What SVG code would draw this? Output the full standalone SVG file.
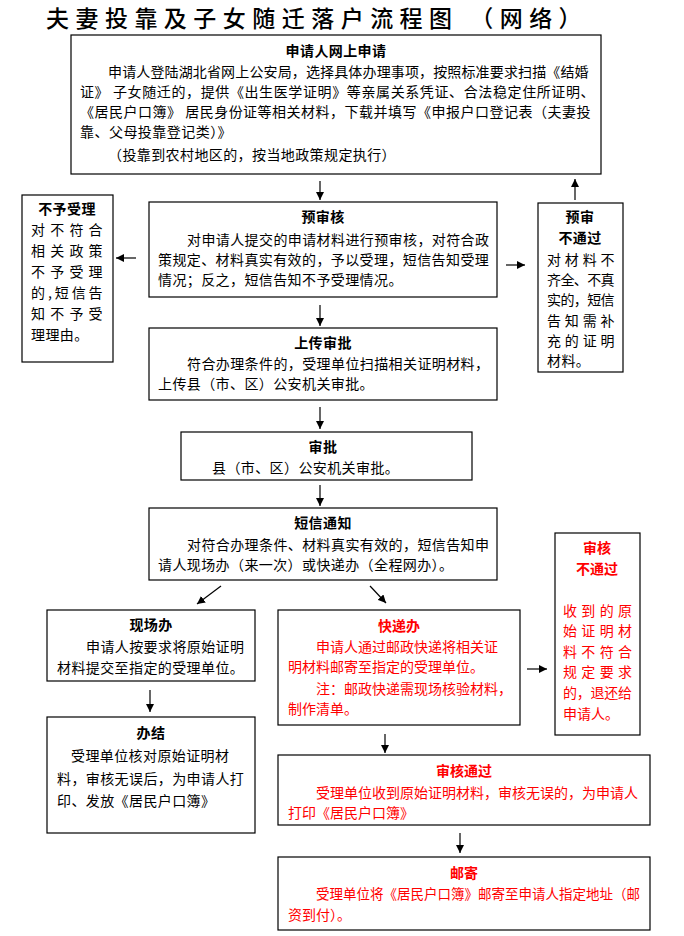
<svg xmlns="http://www.w3.org/2000/svg" width="684" height="936" viewBox="0 0 684 936">
<defs>
<marker id="ah" viewBox="0 0 10 10" refX="10" refY="5" markerWidth="8" markerHeight="8" markerUnits="userSpaceOnUse" orient="auto">
<path d="M0,0 L10,5 L0,10 Z" fill="#000"/>
</marker>
<style>
.box{fill:#fff;stroke:#000;stroke-width:1.2}
text{font-family:"Noto Sans CJK SC","Noto Sans CJK JP",sans-serif;font-size:14px;fill:#000;letter-spacing:0.4px}
.t{font-weight:bold;text-anchor:middle}
.r{fill:#f00;letter-spacing:0}
.ttl{font-size:23px;font-weight:500}
.c line{stroke:#000;stroke-width:1.2;marker-end:url(#ah)}
</style>
</defs>
<rect width="684" height="936" fill="#fff"/>
<text class="ttl" x="46" y="27" textLength="536" lengthAdjust="spacing">夫妻投靠及子女随迁落户流程图 （网络）</text>

<g id="apply">
<rect class="box" x="71" y="35" width="530" height="139"/>
<text class="t" x="336" y="56">申请人网上申请</text>
<text x="108" y="77" textLength="481" lengthAdjust="spacing">申请人登陆湖北省网上公安局，选择具体办理事项，按照标准要求扫描《结婚</text>
<text x="80" y="97" textLength="515" lengthAdjust="spacing">证》 子女随迁的，提供《出生医学证明》等亲属关系凭证、合法稳定住所证明、</text>
<text x="80" y="117" textLength="511" lengthAdjust="spacing">《居民户口簿》 居民身份证等相关材料，下载并填写《申报户口登记表（夫妻投</text>
<text x="80" y="137" textLength="152" lengthAdjust="spacing">靠、父母投靠登记类）》</text>
<text x="108" y="160">（投靠到农村地区的，按当地政策规定执行）</text>
</g>

<g id="reject">
<rect class="box" x="22" y="195" width="91" height="167"/>
<text class="t" x="67" y="214">不予受理</text>
<text x="31" y="235" textLength="72" lengthAdjust="spacing">对不符合</text>
<text x="31" y="256" textLength="72" lengthAdjust="spacing">相关政策</text>
<text x="31" y="277" textLength="72" lengthAdjust="spacing">不予受理</text>
<text x="31" y="298" textLength="72" lengthAdjust="spacing">的,短信告</text>
<text x="31" y="319" textLength="72" lengthAdjust="spacing">知不予受</text>
<text x="31" y="340">理理由。</text>
</g>

<g id="precheck">
<rect class="box" x="149" y="202" width="348" height="95"/>
<text class="t" x="323" y="222">预审核</text>
<text x="187" y="245">对申请人提交的申请材料进行预审核，对符合政</text>
<text x="158" y="265">策规定、材料真实有效的，予以受理，短信告知受理</text>
<text x="158" y="285">情况；反之，短信告知不予受理情况。</text>
</g>

<g id="prefail">
<rect class="box" x="538" y="203" width="85" height="169"/>
<text class="t" x="580" y="222">预审</text>
<text class="t" x="580" y="243">不通过</text>
<text x="547" y="265" textLength="68" lengthAdjust="spacing">对材料不</text>
<text x="547" y="285" textLength="68" lengthAdjust="spacing">齐全、不真</text>
<text x="547" y="305" textLength="68" lengthAdjust="spacing">实的，短信</text>
<text x="547" y="326" textLength="68" lengthAdjust="spacing">告知需补</text>
<text x="547" y="346" textLength="68" lengthAdjust="spacing">充的证明</text>
<text x="547" y="366">材料。</text>
</g>

<g id="upload">
<rect class="box" x="149" y="328" width="348" height="72"/>
<text class="t" x="323" y="348">上传审批</text>
<text x="187" y="369">符合办理条件的，受理单位扫描相关证明材料，</text>
<text x="158" y="389">上传县（市、区）公安机关审批。</text>
</g>

<g id="approve">
<rect class="box" x="181" y="432" width="291" height="48"/>
<text class="t" x="323" y="452">审批</text>
<text x="212" y="473">县（市、区）公安机关审批。</text>
</g>

<g id="sms">
<rect class="box" x="149" y="508" width="348" height="72"/>
<text class="t" x="323" y="528">短信通知</text>
<text x="187" y="550">对符合办理条件、材料真实有效的，短信告知申</text>
<text x="158" y="570">请人现场办（来一次）或快递办（全程网办）。</text>
</g>

<g id="onsite">
<rect class="box" x="47" y="610" width="208" height="71"/>
<text class="t" x="151" y="630">现场办</text>
<text x="86" y="652">申请人按要求将原始证明</text>
<text x="57" y="673">材料提交至指定的受理单位。</text>
</g>

<g id="done">
<rect class="box" x="47" y="717" width="208" height="116"/>
<text class="t" x="151" y="738">办结</text>
<text x="71" y="761">受理单位核对原始证明材</text>
<text x="57" y="784">料，审核无误后，为申请人打</text>
<text x="57" y="806">印、发放《居民户口簿》</text>
</g>

<g id="express">
<rect class="box" x="278" y="610" width="242" height="115"/>
<text class="t r" x="399" y="631">快递办</text>
<text class="r" x="316" y="652">申请人通过邮政快递将相关证</text>
<text class="r" x="288" y="672">明材料邮寄至指定的受理单位。</text>
<text class="r" x="316" y="694">注：邮政快递需现场核验材料，</text>
<text class="r" x="288" y="714">制作清单。</text>
</g>

<g id="checkfail">
<rect class="box" x="555" y="533" width="85" height="202"/>
<text class="t r" x="597" y="553">审核</text>
<text class="t r" x="597" y="574">不通过</text>
<text class="r" x="563" y="616" textLength="69" lengthAdjust="spacing">收到的原</text>
<text class="r" x="563" y="636" textLength="69" lengthAdjust="spacing">始证明材</text>
<text class="r" x="563" y="657" textLength="69" lengthAdjust="spacing">料不符合</text>
<text class="r" x="563" y="677" textLength="69" lengthAdjust="spacing">规定要求</text>
<text class="r" x="563" y="698" textLength="69" lengthAdjust="spacing">的，退还给</text>
<text class="r" x="563" y="719">申请人。</text>
</g>

<g id="checkpass">
<rect class="box" x="278" y="755" width="372" height="70"/>
<text class="t r" x="464" y="776">审核通过</text>
<text class="r" x="316" y="798">受理单位收到原始证明材料，审核无误的，为申请人</text>
<text class="r" x="288" y="818">打印《居民户口簿》</text>
</g>

<g id="mail">
<rect class="box" x="278" y="857" width="372" height="73"/>
<text class="t r" x="464" y="878">邮寄</text>
<text class="r" x="316" y="899" textLength="324" lengthAdjust="spacingAndGlyphs">受理单位将《居民户口簿》邮寄至申请人指定地址（邮</text>
<text class="r" x="288" y="920">资到付）。</text>
</g>

<g class="c" id="connectors">
<line x1="320" y1="181" x2="320" y2="200"/>
<line x1="575" y1="200" x2="575" y2="179"/>
<line x1="136" y1="258" x2="116" y2="258"/>
<line x1="506" y1="265" x2="525" y2="265"/>
<line x1="320" y1="305" x2="320" y2="326"/>
<line x1="320" y1="407" x2="320" y2="429"/>
<line x1="320" y1="485" x2="320" y2="506"/>
<line x1="221" y1="586" x2="197" y2="604"/>
<line x1="370" y1="586" x2="386" y2="603"/>
<line x1="150" y1="690" x2="150" y2="712"/>
<line x1="527" y1="669" x2="547" y2="669"/>
<line x1="385" y1="734" x2="385" y2="753"/>
<line x1="460" y1="833" x2="460" y2="853"/>
</g>
</svg>
